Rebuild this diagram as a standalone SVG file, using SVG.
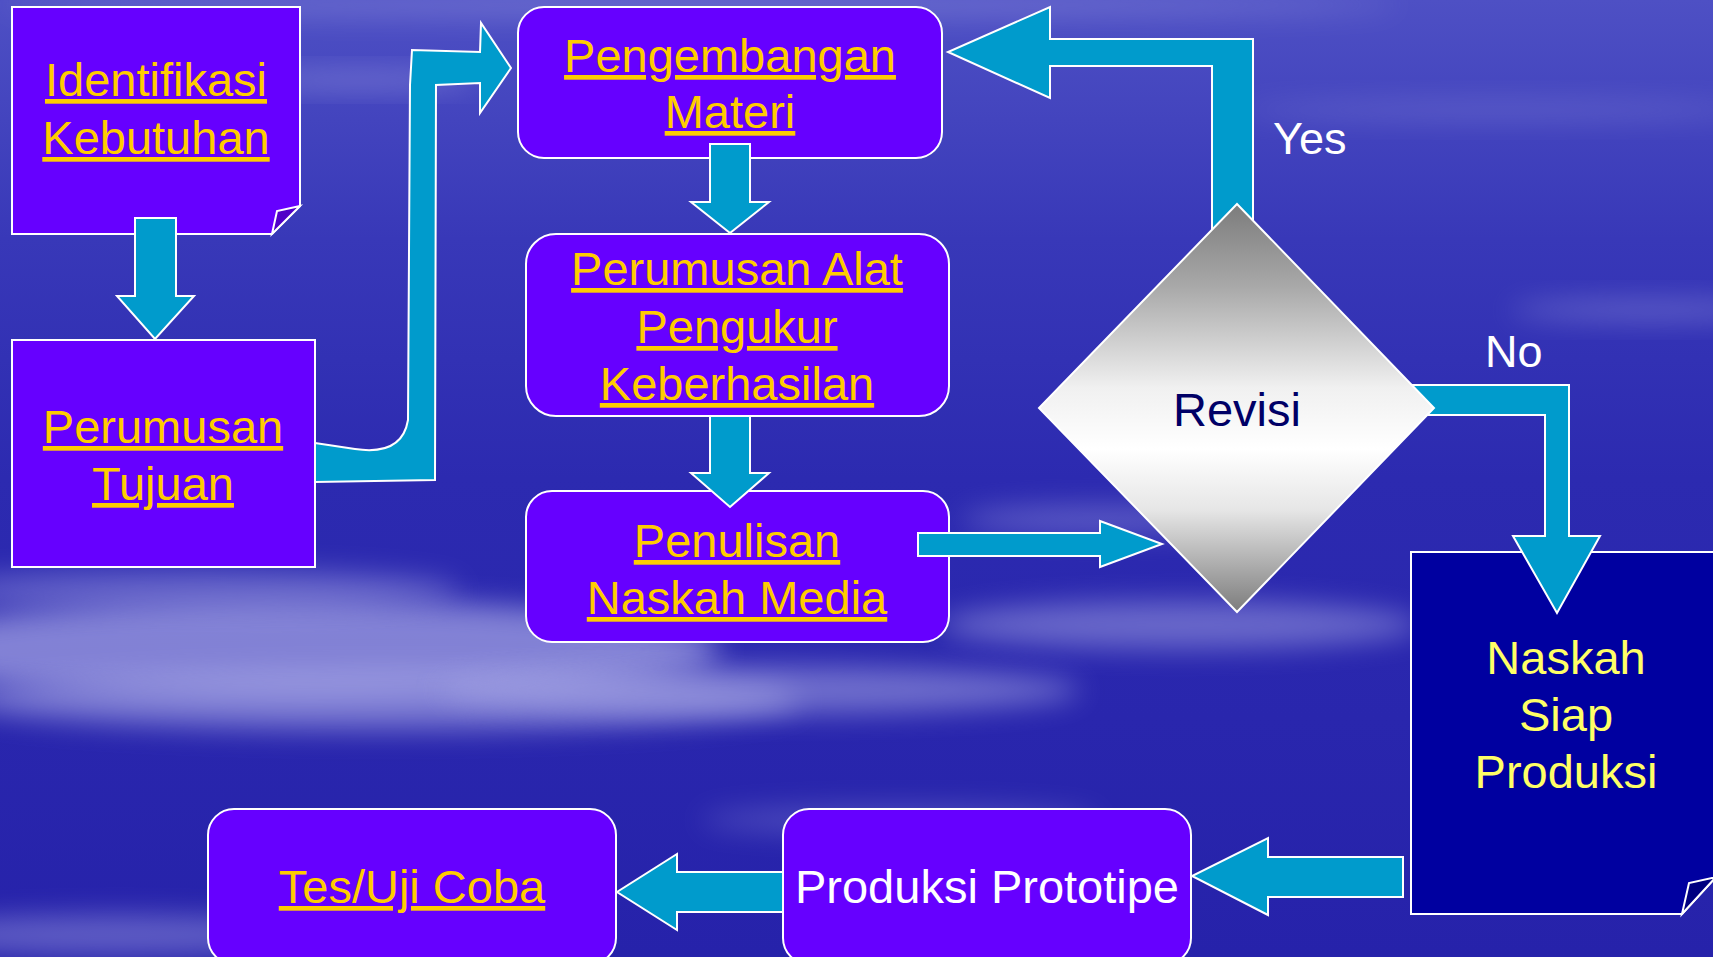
<svg xmlns="http://www.w3.org/2000/svg" width="1713" height="957" viewBox="0 0 1713 957">
<defs>
<linearGradient id="bg" x1="0" y1="0" x2="0" y2="1">
<stop offset="0" stop-color="#4e50c4"/>
<stop offset="0.25" stop-color="#3838b8"/>
<stop offset="0.5" stop-color="#2c2ab0"/>
<stop offset="1" stop-color="#2622aa"/>
</linearGradient>
<linearGradient id="dia" x1="0" y1="0" x2="0" y2="1">
<stop offset="0" stop-color="#7c7c7c"/>
<stop offset="0.2" stop-color="#a8a8a8"/>
<stop offset="0.45" stop-color="#f0f0f0"/>
<stop offset="0.6" stop-color="#ffffff"/>
<stop offset="0.75" stop-color="#e6e6e6"/>
<stop offset="1" stop-color="#7c7c7c"/>
</linearGradient>
<filter id="blur" x="-20%" y="-100%" width="140%" height="300%"><feGaussianBlur stdDeviation="14"/></filter>
<style>
.box{fill:#6600ff;stroke:#ffffff;stroke-width:2}
.navy{fill:#0000a0;stroke:#ffffff;stroke-width:2}
.fold{fill:#5000c8;stroke:#ffffff;stroke-width:2}
.foldn{fill:#000080;stroke:#ffffff;stroke-width:2}
.arr{fill:#009bcc;stroke:#ffffff;stroke-width:2;stroke-linejoin:miter}
.t{font-family:"Liberation Sans",Arial,sans-serif;font-size:47px;text-anchor:middle}
.link{fill:#ffcc00;text-decoration:underline}
.wt{fill:#ffffff}
.yl{fill:#ffff66}
.lbl{font-family:"Liberation Sans",Arial,sans-serif;font-size:45px;fill:#ffffff}
.cloud{fill:#a8a8e6;filter:url(#blur)}
</style>
</defs>
<g id="background">
<rect width="1713" height="957" fill="url(#bg)"/>
<ellipse class="cloud" cx="300" cy="650" rx="420" ry="50" opacity="0.7"/>
<ellipse class="cloud" cx="380" cy="700" rx="420" ry="30" opacity="0.6"/>
<ellipse class="cloud" cx="760" cy="690" rx="320" ry="24" opacity="0.55"/>
<ellipse class="cloud" cx="200" cy="590" rx="260" ry="20" opacity="0.45"/>
<ellipse class="cloud" cx="1180" cy="625" rx="240" ry="24" opacity="0.5"/>
<ellipse class="cloud" cx="1100" cy="520" rx="140" ry="14" opacity="0.4"/>
<ellipse class="cloud" cx="120" cy="935" rx="220" ry="20" opacity="0.45"/>
<ellipse class="cloud" cx="360" cy="80" rx="120" ry="8" opacity="0.5"/>
<ellipse class="cloud" cx="700" cy="5" rx="700" ry="12" opacity="0.35"/>
<ellipse class="cloud" cx="1650" cy="310" rx="140" ry="10" opacity="0.4"/>
<ellipse class="cloud" cx="1500" cy="110" rx="260" ry="10" opacity="0.25"/>
<ellipse class="cloud" cx="900" cy="820" rx="200" ry="14" opacity="0.3"/>
</g>
<g id="node-identifikasi">
<path class="box" d="M12,7 H300 V206 L272,234 H12 Z"/>
<polygon class="fold" points="272,234 277,211 300,206"/>
<text class="t link" x="156" y="96">Identifikasi</text>
<text class="t link" x="156" y="154">Kebutuhan</text>
</g>
<g id="node-perumusan-tujuan">
<rect class="box" x="12" y="340" width="303" height="227"/>
<text class="t link" x="163" y="443">Perumusan</text>
<text class="t link" x="163" y="500">Tujuan</text>
</g>
<g id="node-pengembangan">
<rect class="box" x="518" y="7" width="424" height="151" rx="26"/>
<text class="t link" x="730" y="72">Pengembangan</text>
<text class="t link" x="730" y="128">Materi</text>
</g>
<g id="node-alat-ukur">
<rect class="box" x="526" y="234" width="423" height="182" rx="30"/>
<text class="t link" x="737" y="285">Perumusan Alat</text>
<text class="t link" x="737" y="343">Pengukur</text>
<text class="t link" x="737" y="400">Keberhasilan</text>
</g>
<g id="node-penulisan">
<rect class="box" x="526" y="491" width="423" height="151" rx="26"/>
<text class="t link" x="737" y="557">Penulisan</text>
<text class="t link" x="737" y="614">Naskah Media</text>
</g>
<g id="node-naskah-siap">
<path class="navy" d="M1411,552 H1716 V877 L1682,914 H1411 Z"/>
<polygon class="foldn" points="1682,914 1689,883 1716,877"/>
<text class="t yl" x="1566" y="674">Naskah</text>
<text class="t yl" x="1566" y="731">Siap</text>
<text class="t yl" x="1566" y="788">Produksi</text>
</g>
<g id="node-produksi">
<rect class="box" x="783" y="809" width="408" height="155" rx="26"/>
<text class="t wt" x="987" y="903">Produksi Prototipe</text>
</g>
<g id="node-tes">
<rect class="box" x="208" y="809" width="408" height="155" rx="26"/>
<text class="t link" x="412" y="903">Tes/Uji Coba</text>
</g>
<g id="connectors">
<polygon class="arr" points="135,218 176,218 176,296 194,296 155,339 117,296 135,296"/>
<path class="arr" d="M315,443 L355,449 Q402,456 408,420 L410,85 L412,50 L480,52 L481,23 L511,68 L480,113 L480,83 L436,85 L435,480 L315,482 Z"/>
<polygon class="arr" points="710,144 750,144 750,202 769,202 730,233 691,202 710,202"/>
<polygon class="arr" points="710,416 750,416 750,473 769,473 730,507 691,473 710,473"/>
<polygon class="arr" points="918,533 1100,533 1100,521 1162,544 1100,567 1100,556 918,556"/>
<polygon class="arr" points="1253,235 1253,39 1050,39 1050,7 948,52 1050,98 1050,66 1212,66 1212,235"/>
<polygon class="arr" points="1400,385 1569,385 1569,536 1600,536 1557,613 1513,536 1545,536 1545,415 1400,415"/>
<polygon class="arr" points="1403,857 1268,857 1268,838 1192,876 1268,915 1268,897 1403,897"/>
<polygon class="arr" points="783,872 677,872 677,854 617,892 677,930 677,912 783,912"/>
<text class="lbl" x="1273" y="154">Yes</text>
<text class="lbl" x="1485" y="367">No</text>
</g>
<g id="node-revisi">
<polygon points="1237,204 1434,408 1237,612 1039,408" fill="url(#dia)" stroke="#ffffff" stroke-width="2"/>
<text class="t" x="1237" y="426" fill="#000066">Revisi</text>
</g>
</svg>
